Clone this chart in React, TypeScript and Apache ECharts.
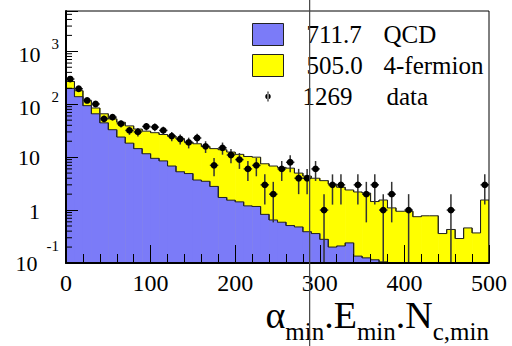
import React, { useEffect, useRef } from 'react';
import * as echarts from 'echarts';

// ---- data ----
const binLow = [0, 10, 20, 30, 40, 50, 60, 70, 80, 90, 100, 110, 120, 130, 140, 150, 160, 170, 180, 190,
  200, 210, 220, 230, 240, 250, 260, 270, 280, 290, 300, 310, 320, 330, 340, 350, 360, 370, 380, 390,
  400, 410, 420, 430, 440, 450, 460, 470, 480, 490];
const BIN_WIDTH = 10;

const qcd = [199, 139, 94, 66, 44.5, 33, 24, 18.4, 14.5, 11.6, 9.5, 8.5, 6.8, 5.3, 4.9, 3.7, 3.5, 2.8, 1.73, 1.54,
  1.43, 1.2, 1.17, 0.83, 0.65, 0.59, 0.51, 0.48, 0.39, 0.36, 0.28, 0.2, 0.21, 0.24, 0.135, 0.125, 0.115, 0.105, 0, 0,
  0, 0, 0, 0, 0, 0, 0, 0, 0, 0];

const fourFermion = [70, 41, 23, 19, 21.5, 20, 21.7, 20.6, 19.5, 19.4, 19.5, 18.3, 18.2, 17.0, 14.3, 14.2, 12.4, 11.7, 12.07, 10.96,
  9.87, 9.1, 8.83, 6.67, 6.15, 5.81, 5.69, 4.52, 4.01, 3.64, 3.32, 2.9, 2.49, 2.16, 2.065, 1.975, 1.335, 1.445, 1.1, 0.95,
  0.95, 0.75, 0.78, 0.78, 0.36, 0.43, 0.29, 0.46, 0.37, 1.55];

const dataCounts = [299, 196, 118, 101, 53, 57, 43, 32, 30, 38, 37, 32, 25, 22, 19, 23, 16, 7, 15, 11,
  9, 6, 7, 3, 2, 6, 8, 4, 4, 6, 1, 3, 3, 0, 3, 2, 3, 1, 2, 0,
  1, 0, 0, 0, 0, 1, 0, 0, 0, 3];

const legendNames = ['QCD', '4-fermion', 'data'];
const legendYields = ['711.7', '505.0', '1269'];

const X_MIN = 0;
const X_MAX = 500;
const X_INTERVAL = 100;
const Y_MIN = 0.1;
const Y_MAX = 5780;
const CUT_X = 288;

// ---- styles ----
const FONT = 'Liberation Serif';
const BLUE = '#7b7bf8';
const YELLOW = '#ffff00';
const OUTLINE = '#222';

const clampY = (v: number) => (v > Y_MIN ? v : Y_MIN);

const totals = qcd.map((q, i) => q + fourFermion[i]);

function histData(vals: number[]) {
  return vals.map((v, i) => [
    binLow[i],
    binLow[i] + BIN_WIDTH,
    clampY(v),
    i > 0 ? clampY(vals[i - 1]) : Y_MIN,
    i < vals.length - 1 ? clampY(vals[i + 1]) : Y_MIN,
  ]);
}

const makeHistRender = (fill: string) => (_params: any, api: any) => {
  const x0 = api.value(0);
  const x1 = api.value(1);
  const v = api.value(2);
  const prev = api.value(3);
  const next = api.value(4);
  const tl = api.coord([x0, v]);
  const tr = api.coord([x1, v]);
  const bl = api.coord([x0, Y_MIN]);
  const pPrev = api.coord([x0, prev]);
  const pNext = api.coord([x1, next]);
  const children: any[] = [];
  if (v > Y_MIN) {
    children.push({
      type: 'rect',
      shape: { x: tl[0], y: tl[1], width: tr[0] - tl[0] + 0.6, height: bl[1] - tl[1] },
      style: { fill },
      z2: 0,
    });
  }
  children.push({
    type: 'polyline',
    shape: { points: [pPrev, tl, tr, pNext] },
    style: { stroke: OUTLINE, lineWidth: 1, fill: null },
    z2: 5,
  });
  return { type: 'group', children };
};

const pointData = dataCounts
  .map((n, i) => [binLow[i] + BIN_WIDTH / 2, n, Math.sqrt(n)])
  .filter((d) => d[1] > 0);

const renderPoint = (_params: any, api: any) => {
  const x = api.value(0);
  const n = api.value(1);
  const err = api.value(2);
  const c = api.coord([x, n]);
  const top = api.coord([x, n + err]);
  const bot = api.coord([x, Math.max(n - err, Y_MIN)]);
  const l = api.coord([x - BIN_WIDTH / 2, n]);
  const r = api.coord([x + BIN_WIDTH / 2, n]);
  return {
    type: 'group',
    children: [
      { type: 'line', shape: { x1: top[0], y1: top[1], x2: bot[0], y2: bot[1] }, style: { stroke: '#333', lineWidth: 1.5 } },
      { type: 'line', shape: { x1: l[0], y1: l[1], x2: r[0], y2: r[1] }, style: { stroke: '#333', lineWidth: 1.5 } },
      { type: 'circle', shape: { cx: c[0], cy: c[1], r: 3.4 }, style: { fill: '#000' } },
    ],
  };
};

// minor log ticks (2..9 x 10^k)
const yMinorTicks: number[][] = [];
for (let e = -1; e <= 3; e++) {
  for (let m = 2; m <= 9; m++) {
    const v = m * Math.pow(10, e);
    if (v < Y_MAX) yMinorTicks.push([X_MIN, v]);
  }
}

const renderMinorTick = (_params: any, api: any) => {
  const p = api.coord([api.value(0), api.value(1)]);
  return {
    type: 'line',
    shape: { x1: p[0], y1: p[1], x2: p[0] + 6, y2: p[1] },
    style: { stroke: '#000', lineWidth: 1 },
  };
};

const yLabelFormatter = (val: number) => {
  const e = Math.log10(val);
  const r = Math.round(e);
  if (Math.abs(e - r) > 1e-6) return '';
  if (r === 1) return '{t|10}';
  if (r === 0) return '{o|1}';
  if (r < 0) return `{bn|10}{sn|${r}}`;
  return `{b|10}{s|${r}}`;
};

const DATA_ICON =
  'path://M0,0L0.01,0L0.01,0.01Z M31,22L30.99,22L30.99,21.99Z M15,6L16,6L16,16L15,16Z M12.8,11A2.7,2.7,0,1,0,18.2,11A2.7,2.7,0,1,0,12.8,11Z';

const tok = (size: number, extra: any = {}) => ({ fontFamily: FONT, fontSize: size, color: '#000', ...extra });

export default function App() {
  const ref = useRef<HTMLDivElement>(null);

  useEffect(() => {
    if (!ref.current) return;
    const chart = echarts.init(ref.current, undefined, { renderer: 'svg' });
    const option: any = {
      animation: false,
      textStyle: { fontFamily: FONT },
      grid: {
        left: 66, right: 23, top: 11, bottom: 83,
        show: true, borderColor: '#000', borderWidth: 1, backgroundColor: 'transparent', z: 10,
      },
      legend: {
        orient: 'vertical', left: 247, top: 17, itemWidth: 31, itemHeight: 22, itemGap: 6,
        selectedMode: false,
        data: [
          { name: legendNames[0], icon: 'rect', itemStyle: { color: BLUE, borderColor: OUTLINE, borderWidth: 1 } },
          { name: legendNames[1], icon: 'rect', itemStyle: { color: YELLOW, borderColor: OUTLINE, borderWidth: 1 } },
          { name: legendNames[2], icon: DATA_ICON, itemStyle: { color: '#000', borderWidth: 0 } },
        ],
        formatter: (name: string) => {
          const y = legendYields[legendNames.indexOf(name)];
          return name === 'data' ? `{vd|${y}}{nd|${name}}` : `{v|${y}}{n|${name}}`;
        },
        textStyle: {
          fontFamily: FONT, fontSize: 25, color: '#000',
          rich: {
            v: tok(25, { lineHeight: 22, width: 77, padding: [0, 0, 0, 18] }),
            n: tok(25, { lineHeight: 22 }),
            vd: tok(25, { lineHeight: 22, width: 84, padding: [0, 0, 0, 14] }),
            nd: tok(25, { lineHeight: 22 }),
          },
        },
      },
      xAxis: {
        type: 'value', min: X_MIN, max: X_MAX, interval: X_INTERVAL, z: 10,
        axisLine: { show: true, onZero: false, lineStyle: { color: '#000', width: 2 } },
        axisTick: { show: true, inside: true, length: 18, lineStyle: { color: '#000', width: 1 } },
        minorTick: { show: true, splitNumber: 5, length: 9, lineStyle: { color: '#000', width: 1 } },
        splitLine: { show: false },
        axisLabel: { margin: 8, fontSize: 24, fontFamily: FONT, color: '#000' },
      },
      yAxis: {
        type: 'log', logBase: 10, min: Y_MIN, max: Y_MAX, z: 10,
        axisLine: { show: true, lineStyle: { color: '#000', width: 2 } },
        axisTick: { show: true, inside: true, length: 12, lineStyle: { color: '#000', width: 1 } },
        splitLine: { show: false },
        axisLabel: {
          margin: 7, color: '#000', fontFamily: FONT, fontSize: 22,
          formatter: yLabelFormatter,
          rich: {
            b: tok(22, { lineHeight: 22, padding: [6, 0, 0, 0] }),
            s: tok(15, { lineHeight: 22, padding: [0, 0, 14, 11] }),
            bn: tok(22, { lineHeight: 22, padding: [1, 0, 0, 0] }),
            sn: tok(15, { lineHeight: 22, padding: [0, 0, 34, 9] }),
            t: tok(22, { lineHeight: 22, padding: [0, 19, 0, 0] }),
            o: tok(22, { lineHeight: 22, padding: [3, 19, 0, 0] }),
          },
        },
      },
      series: [
        {
          name: '4-fermion', type: 'custom', z: 2, clip: true,
          renderItem: makeHistRender(YELLOW),
          encode: { x: [0, 1], y: 2 },
          data: histData(totals),
          itemStyle: { color: YELLOW },
        },
        {
          name: 'QCD', type: 'custom', z: 3, clip: true,
          renderItem: makeHistRender(BLUE),
          encode: { x: [0, 1], y: 2 },
          data: histData(qcd),
          itemStyle: { color: BLUE },
        },
        {
          name: 'data', type: 'custom', z: 5, clip: true,
          renderItem: renderPoint,
          encode: { x: 0, y: 1 },
          data: pointData,
          itemStyle: { color: '#000' },
        },
        {
          name: 'yMinorTicks', type: 'custom', z: 11, clip: true, silent: true,
          renderItem: renderMinorTick,
          encode: { x: 0, y: 1 },
          data: yMinorTicks,
        },
      ],
      graphic: [
        {
          id: 'xtitle', type: 'text', right: 23, top: 296,
          style: {
            text: '{m|α}{s|min}{m|.E}{s|min}{m|.N}{s|c,min}',
            fill: '#000',
            rich: {
              m: { fontFamily: FONT, fontSize: 38, lineHeight: 20, padding: [0, 0, 9.5, 0], fill: '#000' },
              s: { fontFamily: FONT, fontSize: 25, lineHeight: 20, padding: [22.5, 0, 0, 0], fill: '#000' },
            },
          },
        },
      ],
    };
    chart.setOption(option);
    const px = chart.convertToPixel({ xAxisIndex: 0 }, CUT_X) as number;
    chart.setOption({
      graphic: [
        {
          id: 'cut', type: 'line', z: 100,
          shape: { x1: px, y1: 0, x2: px, y2: 346 },
          style: { stroke: '#444', lineWidth: 1.2 },
        },
      ],
    });
    return () => chart.dispose();
  }, []);

  return (
    <div
      ref={ref}
      style={{ position: 'absolute', left: 0, top: 0, width: 512, height: 346 }}
    />
  );
}
